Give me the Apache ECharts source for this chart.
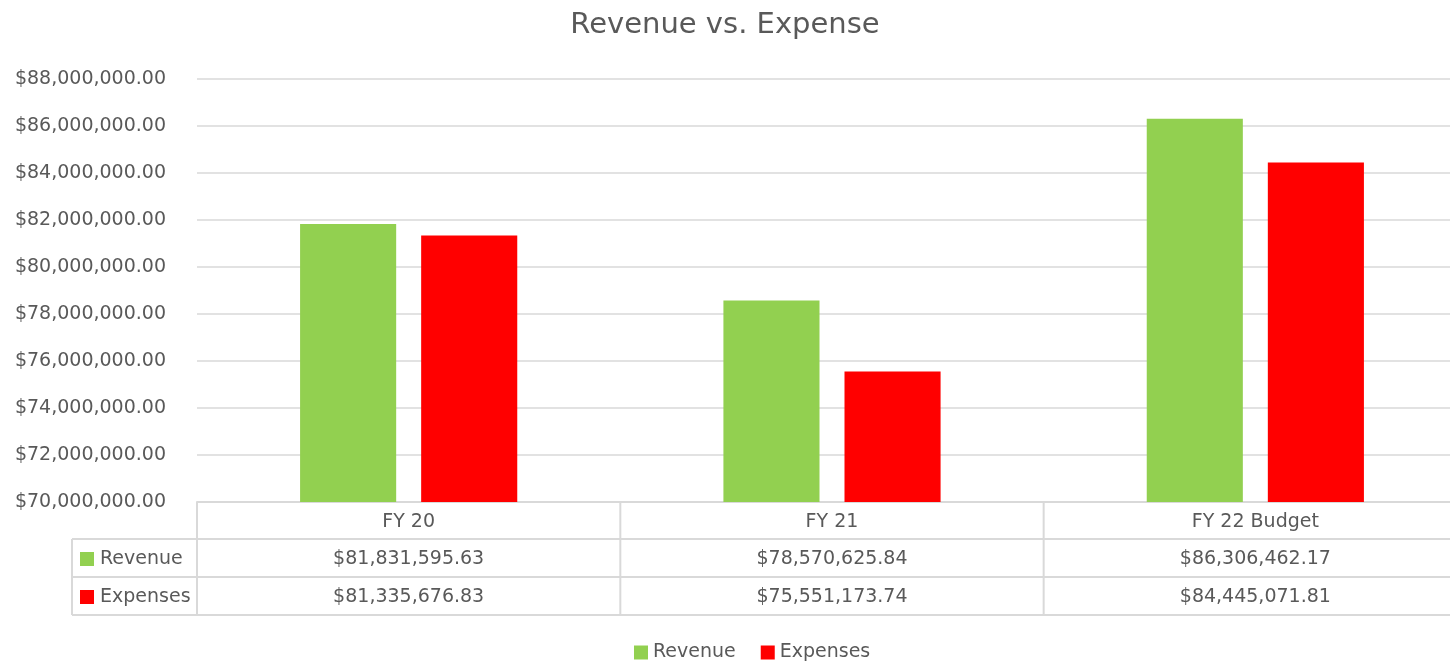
<!DOCTYPE html>
<html><head><meta charset="utf-8">
<script src="https://cdn.jsdelivr.net/npm/echarts@6/dist/echarts.min.js"></script>
<style>html,body{margin:0;padding:0;background:#fff}#c{width:1450px;height:663px}</style>
</head><body><div id="c"></div>
<script>
const categories = ['FY 20', 'FY 21', 'FY 22 Budget'];
const revenue = [81831595.63, 78570625.84, 86306462.17];
const expenses = [81335676.83, 75551173.74, 84445071.81];
const seriesNames = ['Revenue', 'Expenses'];
const colors = ['#92d050', '#ff0000'];
const FONT = 'DejaVu Sans';
const TXT = '#595959';
const LINE = '#d9d9d9';
const FS = 19;
function money(v){return '$' + v.toLocaleString('en-US',{minimumFractionDigits:2,maximumFractionDigits:2});}

const chart = echarts.init(document.getElementById('c'));
const GL = 197, GW = 1270, GT = 79, GB = 161;
chart.setOption({
  animation:false,
  textStyle:{fontFamily:FONT},
  title:{text:'Revenue vs. Expense',left:'center',top:6,textStyle:{fontFamily:FONT,fontWeight:'normal',fontSize:29,color:TXT}},
  legend:{top:638,left:629,itemWidth:14,itemHeight:14,itemGap:25,itemTextGap:7,icon:'rect',
    textStyle:{fontFamily:FONT,fontSize:FS,color:TXT},data:seriesNames},
  grid:{left:GL,width:GW,top:GT,bottom:GB,containLabel:false,outerBoundsMode:'none'},
  xAxis:{type:'category',data:categories,
    axisLine:{show:true,lineStyle:{color:LINE,width:2}},axisTick:{show:false},
    axisLabel:{show:true,margin:11,fontFamily:FONT,fontSize:FS,color:TXT}},
  yAxis:{type:'value',min:70000000,max:88000000,interval:2000000,
    axisLine:{show:false},axisTick:{show:false},
    axisLabel:{margin:31,fontFamily:FONT,fontSize:FS,color:TXT,formatter:v=>money(v)},
    splitLine:{lineStyle:{color:LINE,width:1.5}}},
  series:[
    {name:seriesNames[0],type:'bar',data:revenue,itemStyle:{color:colors[0]},barWidth:'22.7%',barGap:'26%'},
    {name:seriesNames[1],type:'bar',data:expenses,itemStyle:{color:colors[1]},barWidth:'22.7%',barGap:'26%'}
  ]
});

// Data table built from the axis scale
const yAxisBase = chart.convertToPixel({yAxisIndex:0}, 70000000);
const centers = categories.map((c,i)=>chart.convertToPixel({xAxisIndex:0}, i));
const band = centers.length>1 ? centers[1]-centers[0] : 400;
const bounds = [centers[0]-band/2].concat(centers.map(c=>c+band/2));
const rowH = 38;
const top0 = yAxisBase;
const r1 = top0 + 37, r2 = r1 + rowH, r3 = r2 + rowH;
const tableLeft = 72;
const right = bounds[bounds.length-1];
const els = [];
const ln = (x1,y1,x2,y2)=>els.push({type:'line',shape:{x1,y1,x2,y2},style:{stroke:LINE,lineWidth:2}});
ln(tableLeft, r1, right, r1);
ln(tableLeft, r2, right, r2);
ln(tableLeft, r3, right, r3);
ln(tableLeft, r1, tableLeft, r3);
bounds.forEach(b=>ln(b, top0, b, r3));
const rows = [revenue, expenses];
rows.forEach((vals,ri)=>{
  const yc = (ri===0 ? r1 : r2) + rowH/2 + 1;
  els.push({type:'rect',shape:{x:80,y:yc-7,width:14,height:14},style:{fill:colors[ri]}});
  els.push({type:'text',x:100,y:yc,style:{text:seriesNames[ri],fontFamily:FONT,fontSize:FS,fill:TXT,textVerticalAlign:'middle',textAlign:'left'}});
  vals.forEach((v,ci)=>{
    els.push({type:'text',x:centers[ci],y:yc,style:{text:money(v),fontFamily:FONT,fontSize:FS,fill:TXT,textAlign:'center',textVerticalAlign:'middle'}});
  });
});
chart.setOption({graphic:{elements:els}});
</script></body></html>
